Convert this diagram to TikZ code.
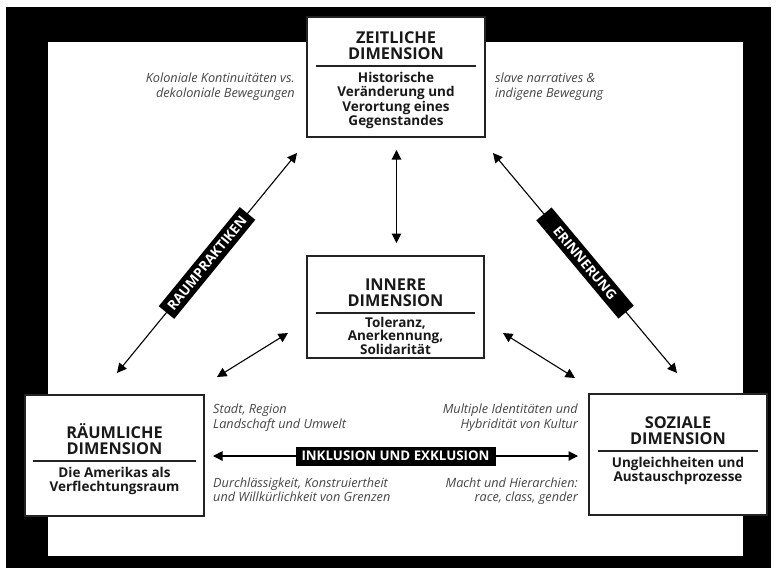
\documentclass[tikz,border=0pt]{standalone}
\usepackage{fontspec}
\setmainfont{Open Sans}
\usetikzlibrary{arrows.meta}
\definecolor{boxline}{RGB}{35,35,35}
\definecolor{notegray}{RGB}{70,70,70}
\begin{document}
\begin{tikzpicture}[x=1pt,y=-1pt,
  dimbox/.style={draw=boxline, line width=1.3pt, fill=white, inner sep=0pt, rectangle},
  ttl/.style={font=\fontsize{16.3}{16}\selectfont\bfseries, text=black!90, anchor=base, inner sep=0pt},
  sub/.style={font=\fontsize{13.5}{14}\selectfont\bfseries, text=black!90, anchor=base, inner sep=0pt},
  sepline/.style={draw=boxline, line width=1.3pt},
  note/.style={font=\fontsize{12.7}{14}\selectfont\itshape, text=notegray, inner sep=0pt},
  arr/.style={line width=1.1pt, {Triangle[length=9.5pt,width=9.5pt]}-{Triangle[length=9.5pt,width=9.5pt]}},
  lab/.style={fill=black, text=white, font=\fontsize{13.5}{14}\selectfont\bfseries, inner sep=0pt, minimum height=20pt, minimum width=128pt},
  hlab/.style={fill=black, text=white, font=\fontsize{13.3}{14}\selectfont\bfseries, inner sep=0pt, minimum height=19pt, minimum width=200pt}
]
\useasboundingbox (0,0) rectangle (776,571);
\fill[white] (0,0) rectangle (776,571);
\fill[black] (6,7) rectangle (771,568);
\fill[white] (48,42) rectangle (743,556);

% boxes
\node[dimbox, minimum width=178pt, minimum height=120pt] (zeit) at (396,77) {};
\node[dimbox, minimum width=177pt, minimum height=102pt] (inner) at (395.5,307) {};
\node[dimbox, minimum width=179pt, minimum height=121pt] (raum) at (114.5,455.5) {};
\node[dimbox, minimum width=178pt, minimum height=121pt] (soz) at (678,454.5) {};

% ZEITLICHE
\node[ttl] (zt1) at (396,43) {ZEITLICHE};
\node[ttl] (zt2) at (396,59) {DIMENSION};
\draw[sepline] ([xshift=10pt]zeit.west |- 0,66) coordinate (zl1) -- ([xshift=-10pt]zeit.east |- 0,66) coordinate (zl2);
\node[sub] (zs1) at (396,82) {Historische};
\node[sub] (zs2) at (396,96.5) {Veränderung und};
\node[sub] (zs3) at (396,111) {Verortung eines};
\node[sub] (zs4) at (396,125.5) {Gegenstandes};

% INNERE
\node[ttl] (it1) at (395.5,290) {INNERE};
\node[ttl] (it2) at (395.5,306) {DIMENSION};
\draw[sepline] ([xshift=10pt]inner.west |- 0,313) -- ([xshift=-10pt]inner.east |- 0,313);
\node[sub] (is1) at (395.5,327) {Toleranz,};
\node[sub] (is2) at (395.5,340.5) {Anerkennung,};
\node[sub] (is3) at (395.5,354) {Solidarität};

% RAEUMLICHE
\node[ttl] (rt1) at (114.5,438) {RÄUMLICHE};
\node[ttl] (rt2) at (114.5,454) {DIMENSION};
\draw[sepline] ([xshift=9pt]raum.west |- 0,461) -- ([xshift=-9pt]raum.east |- 0,461);
\node[sub] (rs1) at (114.5,477) {Die Amerikas als};
\node[sub] (rs2) at (114.5,491.5) {Verflechtungsraum};

% SOZIALE
\node[ttl] (st1) at (678,428) {SOZIALE};
\node[ttl] (st2) at (678,444) {DIMENSION};
\draw[sepline] ([xshift=10pt]soz.west |- 0,451) -- ([xshift=-10pt]soz.east |- 0,451);
\node[sub] (ss1) at (678,467) {Ungleichheiten und};
\node[sub] (ss2) at (678,481.5) {Austauschprozesse};

% notes
\node[note, anchor=base east] (n1a) at (295,82) {Koloniale Kontinuitäten vs.};
\node[note, anchor=base east] (n1b) at (295,97) {dekoloniale Bewegungen};
\node[note, anchor=base west] (n2a) at (495,82) {slave narratives \&};
\node[note, anchor=base west] (n2b) at (495,97) {indigene Bewegung};
\node[note, anchor=base west] (n3a) at (213,413) {Stadt, Region};
\node[note, anchor=base west] (n3b) at (213,428) {Landschaft und Umwelt};
\node[note, anchor=base east] (n4a) at (578,413) {Multiple Identitäten und};
\node[note, anchor=base east] (n4b) at (578,428) {Hybridität von Kultur};
\node[note, anchor=base west] (n5a) at (213,487) {Durchlässigkeit, Konstruiertheit};
\node[note, anchor=base west] (n5b) at (213,501) {und Willkürlichkeit von Grenzen};
\node[note, anchor=base east] (n6a) at (578,487) {Macht und Hierarchien:};
\node[note, anchor=base east] (n6b) at (578,501) {race, class, gender};

% arrow end coordinates
\coordinate (vt) at (396.5,150);
\coordinate (vb) at (396.5,243);
\coordinate (l1) at (117,373);
\coordinate (l2) at (297,153);
\coordinate (r1) at (493,153);
\coordinate (r2) at (677,373);
\coordinate (sl1) at (217,377);
\coordinate (sl2) at (288,333);
\coordinate (sr1) at (503,333);
\coordinate (sr2) at (575,378);
\coordinate (h1) at (213,456);
\coordinate (h2) at (578,456);

\draw[arr] (vt) -- (vb);
\draw[arr] (l1) -- (l2) node[midway, sloped, lab] (raumlab) {RAUMPRAKTIKEN};
\draw[arr] (r1) -- (r2) node[midway, sloped, lab] (erlab) {ERINNERUNG};
\draw[arr] (sl1) -- (sl2);
\draw[arr] (sr1) -- (sr2);
\draw[arr] (h1) -- (h2) node[pos=0.5, hlab] (inklab) {INKLUSION UND EXKLUSION};
\end{tikzpicture}
\end{document}
